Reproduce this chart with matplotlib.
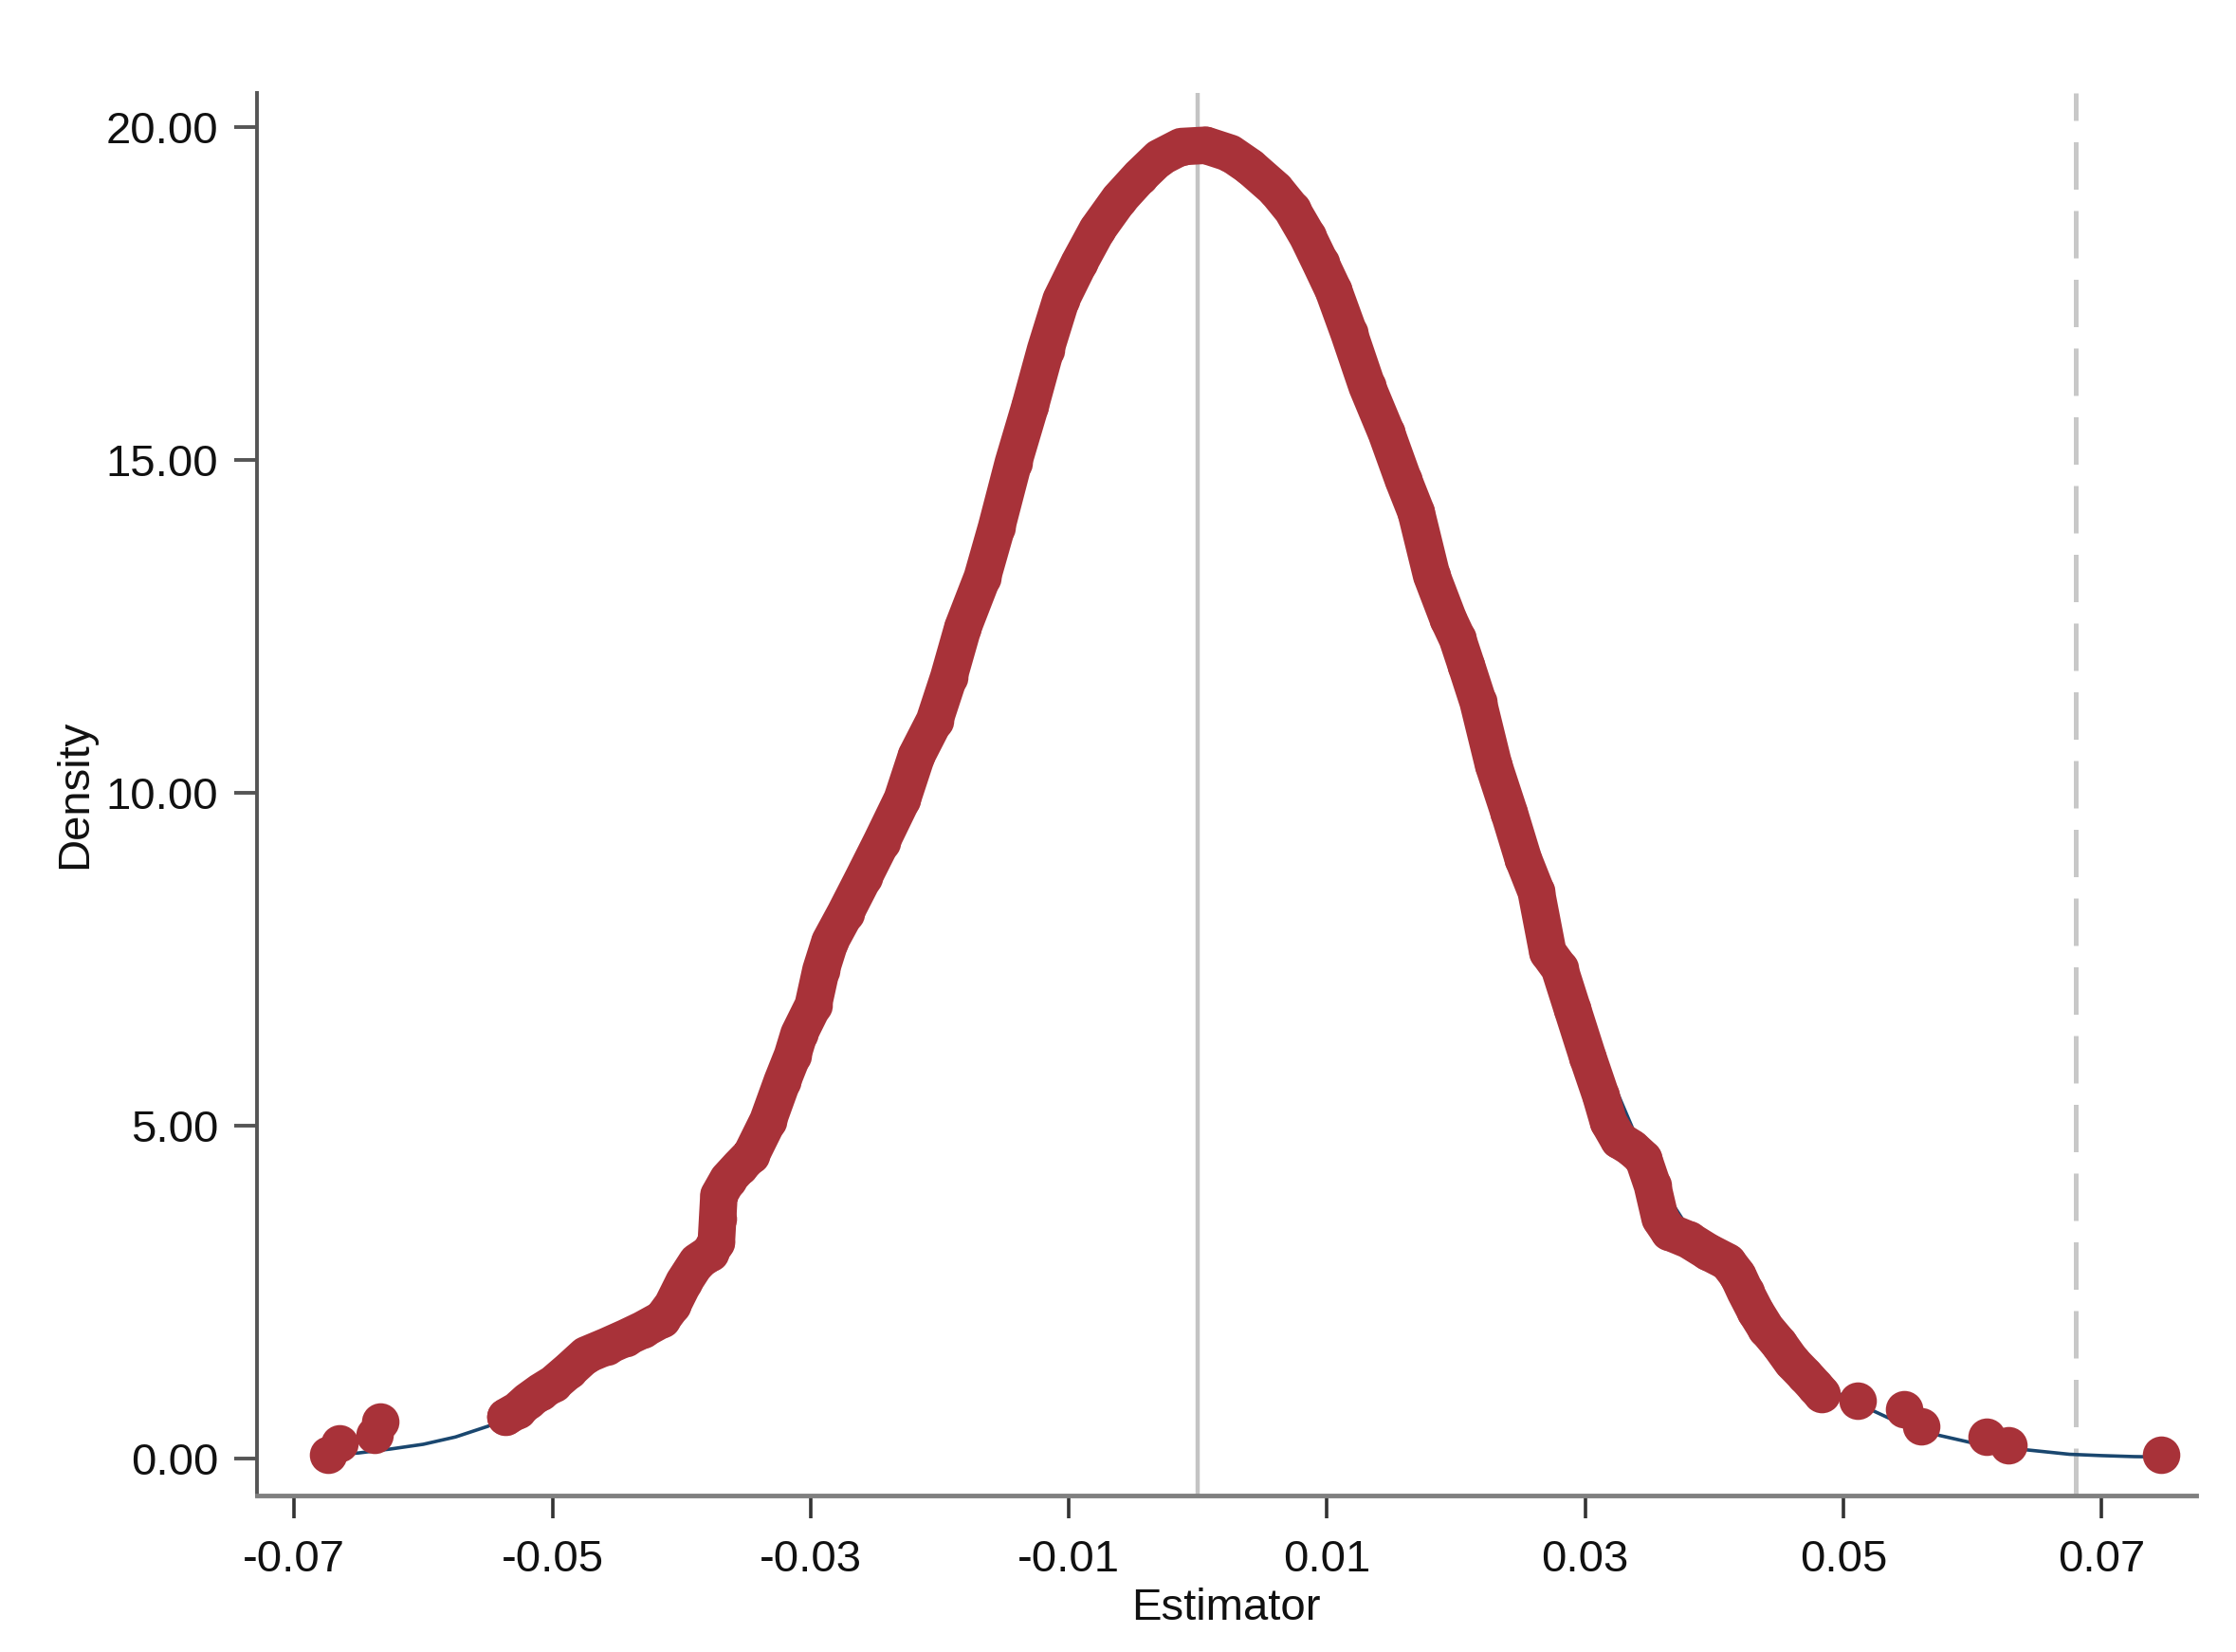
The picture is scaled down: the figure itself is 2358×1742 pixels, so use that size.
import matplotlib
matplotlib.use("Agg")
import matplotlib.pyplot as plt

# Kernel-density points (Estimator, Density): continuous band
band_x = [-0.0536, -0.0527, -0.0519, -0.0509, -0.0499, -0.0487, -0.0474, -0.0458, -0.0443,
          -0.0430, -0.0415, -0.0407, -0.0398, -0.0388, -0.0378, -0.0373, -0.0372, -0.0371,
          -0.0364, -0.0355, -0.0346, -0.0333, -0.0322, -0.0314, -0.0309, -0.0298, -0.0292,
          -0.0285, -0.0273, -0.0259, -0.0245, -0.0229, -0.0218, -0.0204, -0.0193, -0.0182,
          -0.0167, -0.0156, -0.0143, -0.0130, -0.0118, -0.0106, -0.0092, -0.0078, -0.0061,
          -0.0045, -0.0030, -0.0013, 0.0006, 0.0025, 0.0040, 0.0060, 0.0073, 0.0085,
          0.0095, 0.0105, 0.0117, 0.0131, 0.0146, 0.0159, 0.0169, 0.0181, 0.0194,
          0.0201, 0.0208, 0.0217, 0.0229, 0.0241, 0.0252, 0.0262, 0.0271, 0.0280,
          0.0290, 0.0302, 0.0312, 0.0318, 0.0326, 0.0336, 0.0345, 0.0352, 0.0358,
          0.0365, 0.0380, 0.0395, 0.0410, 0.0418, 0.0424, 0.0432, 0.0440, 0.0450,
          0.0460, 0.0470, 0.0478, 0.0483]
band_y = [0.62, 0.72, 0.86, 1.00, 1.12, 1.32, 1.55, 1.68, 1.81,
          1.93, 2.09, 2.30, 2.65, 2.95, 3.08, 3.25, 3.60, 3.95,
          4.19, 4.38, 4.56, 5.07, 5.66, 6.05, 6.37, 6.80, 7.33,
          7.76, 8.19, 8.72, 9.26, 9.90, 10.55, 11.08, 11.73, 12.48,
          13.23, 13.98, 14.95, 15.80, 16.65, 17.40, 17.95, 18.45, 18.91,
          19.25, 19.53, 19.70, 19.72, 19.60, 19.40, 19.06, 18.75, 18.35,
          17.95, 17.54, 16.90, 16.10, 15.40, 14.70, 14.21, 13.26, 12.60,
          12.31, 11.90, 11.36, 10.41, 9.70, 9.00, 8.51, 7.60, 7.36,
          6.75, 6.02, 5.45, 5.05, 4.78, 4.66, 4.50, 4.10, 3.60,
          3.40, 3.28, 3.10, 2.95, 2.75, 2.50, 2.20, 1.95, 1.72,
          1.45, 1.25, 1.08, 0.97]

# Isolated tail points
tail_x = [-0.0674, -0.0665, -0.0638, -0.0633, 0.0511, 0.0547, 0.0560, 0.0611, 0.0628, 0.0746]
tail_y = [0.05, 0.22, 0.35, 0.55, 0.87, 0.74, 0.48, 0.33, 0.19, 0.05]

# Normal reference curve
norm_x = [-0.067, -0.065, -0.0625, -0.060, -0.0575, -0.055, -0.050, -0.045, -0.040, -0.035,
          -0.030, -0.025, -0.020, -0.015, -0.010, -0.005, 0.000, 0.005, 0.010, 0.015,
          0.020, 0.025, 0.030, 0.035, 0.040, 0.045, 0.050, 0.055, 0.0575, 0.060, 0.0625,
          0.065, 0.0675, 0.070, 0.0725, 0.0746]
norm_y = [0.05, 0.08, 0.14, 0.21, 0.32, 0.48, 0.91, 1.63, 2.74, 4.33,
          6.45, 9.04, 11.92, 14.79, 17.27, 18.99, 19.65, 19.13, 17.53, 15.12,
          12.27, 9.37, 6.62, 4.35, 2.85, 1.70, 0.92, 0.47, 0.34, 0.23, 0.16,
          0.11, 0.06, 0.04, 0.025, 0.02]

center_line = 0.0
actual_estimate = 0.068

x_ticks = [-0.07, -0.05, -0.03, -0.01, 0.01, 0.03, 0.05, 0.07]
x_ticklabels = ["-0.07", "-0.05", "-0.03", "-0.01", "0.01", "0.03", "0.05", "0.07"]
y_ticks = [0, 5, 10, 15, 20]
y_ticklabels = ["0.00", "5.00", "10.00", "15.00", "20.00"]

plt.rcParams['font.family'] = ['Liberation Sans', 'DejaVu Sans']

RED = '#a83239'
BLUE = '#1a476f'

fig = plt.figure(figsize=(23.58, 17.42), dpi=100)
ax = fig.add_axes([0.1148, 0.0947, 0.8673, 0.8492])

ax.axvline(center_line, color='#c4c4c4', lw=3.2, zorder=1)
ax.axvline(actual_estimate, color='#c8c8c8', lw=3.6, dashes=(10, 4.5), zorder=1)

ax.plot(norm_x, norm_y, color=BLUE, lw=2.6, zorder=2)

ms = 28.5
ax.plot(band_x, band_y, color=RED, lw=ms, solid_capstyle='round',
        solid_joinstyle='round', zorder=3)
ax.plot(band_x, band_y, 'o', color=RED, ms=ms, mew=0, zorder=3)
ax.plot(tail_x, tail_y, 'o', color=RED, ms=ms, mew=0, zorder=3)

ax.set_xlim(-0.0729, 0.0773)
ax.set_ylim(-0.56, 20.51)

for s in ['top', 'right']:
    ax.spines[s].set_visible(False)
ax.spines['left'].set_color('#555555')
ax.spines['left'].set_linewidth(2.8)
ax.spines['bottom'].set_color('#808080')
ax.spines['bottom'].set_linewidth(3.5)

ax.set_xticks(x_ticks)
ax.set_xticklabels(x_ticklabels)
ax.set_yticks(y_ticks)
ax.set_yticklabels(y_ticklabels)
ax.tick_params(axis='x', length=17, width=2.6, color='#333333', pad=16,
               labelsize=34, labelcolor='#111111')
ax.tick_params(axis='y', length=17, width=2.8, color='#555555', pad=12,
               labelsize=34, labelcolor='#111111')

ax.set_xlabel('Estimator', fontsize=34, labelpad=5, color='#111111')
ax.set_ylabel('Density', fontsize=34, labelpad=7.5, color='#111111')

fig.savefig('out.png', dpi=100, facecolor='white')
